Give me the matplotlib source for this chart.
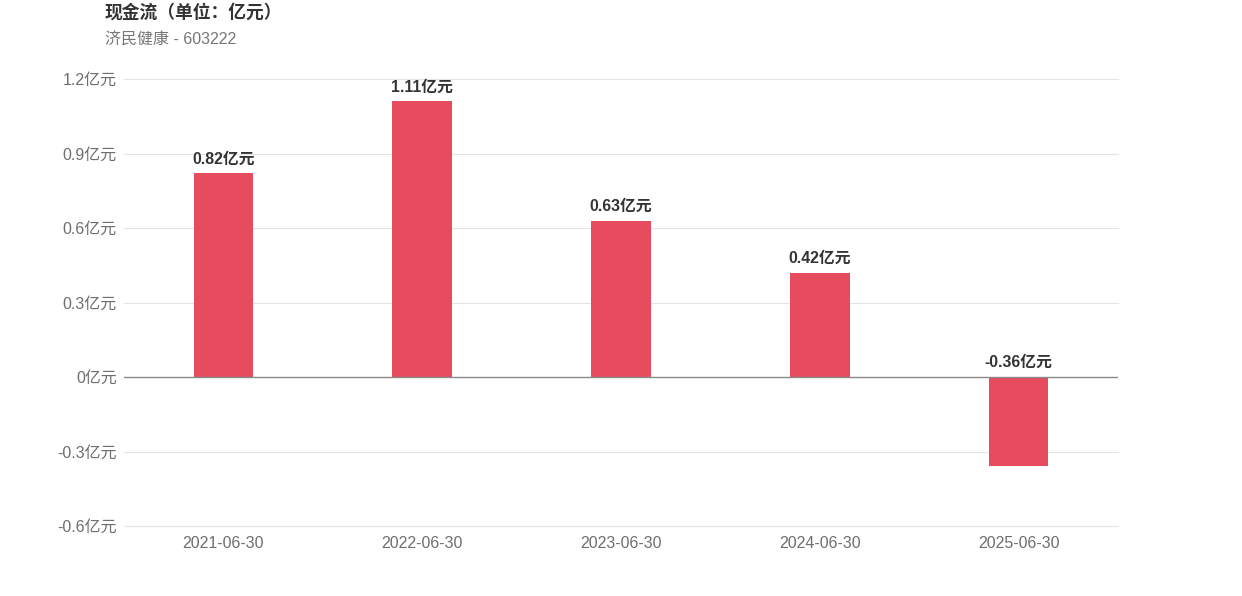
import matplotlib
matplotlib.use("Agg")
import matplotlib.pyplot as plt
import numpy as np

plt.rcParams['font.family'] = ['Liberation Sans', 'Noto Sans CJK SC', 'DejaVu Sans']

# data
dates = ["2021-06-30", "2022-06-30", "2023-06-30", "2024-06-30", "2025-06-30"]
values = [0.82, 1.11, 0.63, 0.42, -0.36]
yticks = [-0.6, -0.3, 0, 0.3, 0.6, 0.9, 1.2]
ytick_labels = ["-0.6亿元", "-0.3亿元", "0亿元", "0.3亿元", "0.6亿元", "0.9亿元", "1.2亿元"]

W, H = 1242, 596
fig = plt.figure(figsize=(W / 100, H / 100), dpi=100)
ax = fig.add_axes([124 / W, 1 - 526 / H, (1118 - 124) / W, (526 - 79) / H])

x = np.arange(len(dates))
ax.bar(x, values, width=0.3, color="#E64B5E", zorder=3)

ax.set_xlim(-0.5, len(dates) - 0.5)
ax.set_ylim(-0.6, 1.2)
ax.set_yticks(yticks)
ax.set_yticklabels(ytick_labels)
ax.set_xticks(x)
ax.set_xticklabels(dates)
ax.tick_params(axis="both", length=0, labelsize=11.5, colors="#6E6E6E")
ax.tick_params(axis="y", pad=5)
ax.tick_params(axis="x", pad=7)

for yv in yticks:
    if yv == 0:
        ax.axhline(0, color="#8a8a8a", lw=1.0, zorder=4)
    else:
        ax.axhline(yv, color="#E3E3E8", lw=0.8, zorder=1, clip_on=False)

for s in ax.spines.values():
    s.set_visible(False)

for xi, v in zip(x, values):
    ax.annotate(f"{v:.2f}亿元", (xi, max(v, 0)), xytext=(0, 5), textcoords="offset points",
                ha="center", va="bottom", fontsize=11.4, fontweight="bold", color="#333333")

fig.text(105 / W, 1 - 13 / H, "现金流（单位：亿元）", fontsize=12.8, fontweight="bold",
         color="#333333", va="center", ha="left")
fig.text(105 / W, 1 - 40 / H, "济民健康 - 603222", fontsize=11.5, color="#777777",
         va="center", ha="left")

fig.savefig("out.png", dpi=100)
